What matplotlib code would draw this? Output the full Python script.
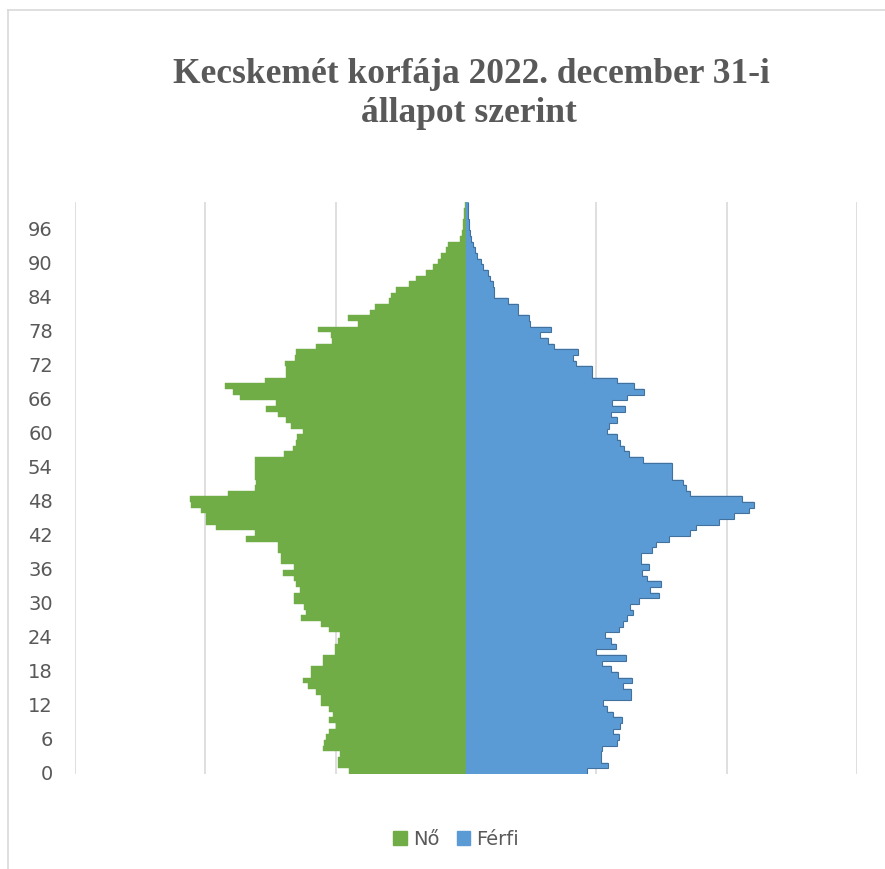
import numpy as np
import matplotlib
matplotlib.use("Agg")
import matplotlib.pyplot as plt
from matplotlib.patches import Patch

# Kecskemét population by age (0..100)
ages = list(range(0, 101))

no = [447, 492, 492, 485, 549, 543, 536, 524, 498, 524,
      511, 524, 555, 555, 575, 607, 626, 594, 594, 549,
      549, 504, 504, 492, 485, 524, 555, 632, 613, 620,
      658, 658, 638, 651, 658, 702, 658, 709, 709, 721,
      721, 843, 808, 958, 996, 996, 1015, 1054, 1060, 913,
      808, 805, 808, 811, 811, 811, 699, 664, 651, 647,
      626, 670, 690, 721, 766, 728, 868, 894, 926, 773,
      690, 690, 696, 655, 651, 575, 513, 517, 568, 415,
      453, 370, 350, 294, 287, 268, 217, 192, 153, 128,
      109, 96, 77, 70, 22, 17, 13, 10, 9, 6,
      4]

ferfi = [466, 545, 517, 517, 520, 578, 587, 565, 590, 600,
         565, 540, 527, 634, 634, 601, 637, 585, 558, 520,
         613, 500, 575, 555, 533, 587, 604, 617, 639, 630,
         664, 741, 706, 747, 696, 677, 702, 670, 670, 715,
         728, 779, 859, 881, 970, 1028, 1085, 1105, 1060, 859,
         845, 834, 792, 792, 792, 680, 626, 607, 590, 581,
         540, 549, 578, 556, 610, 562, 619, 681, 645, 581,
         485, 485, 421, 409, 428, 338, 315, 285, 326, 246,
         243, 198, 198, 160, 109, 109, 102, 93, 83, 64,
         57, 42, 34, 26, 19, 15, 13, 10, 9, 8,
         6]

title_1 = "Kecskemét korfája 2022. december 31-i"
title_2 = "állapot szerint"
ytick_ages = list(range(0, 97, 6))

green = "#70AD47"
blue = "#5B9BD5"
blue_edge = "#41719C"
grey_text = "#595959"

W, H = 885, 870
fig = plt.figure(figsize=(W / 100, H / 100), dpi=100)
ax = fig.add_axes([75 / W, 1 - 775 / H, 782 / W, 572 / H])

ax.barh(ages, [-v for v in no], height=1.0, color=green,
        edgecolor=green, linewidth=0.3, zorder=2)
ax.barh(ages, ferfi, height=1.0, color=blue,
        edgecolor=blue, linewidth=0.3, zorder=2)
# darker outline around the male side
edges = np.arange(len(ages) + 1) - 0.5
ax.stairs(ferfi, edges, orientation="horizontal", baseline=None,
          color=blue_edge, linewidth=0.8, zorder=3)

ax.set_xlim(-1500, 1500)
ax.set_ylim(-0.5, len(ages) - 0.5)
ax.set_xticks(range(-1500, 1501, 500))
ax.set_xticklabels([])
ax.set_yticks(ytick_ages)
ax.set_yticklabels([str(a) for a in ytick_ages], fontsize=14,
                   color=grey_text)
ax.tick_params(axis="both", length=0)
ax.tick_params(axis="y", pad=16)
ax.grid(axis="x", color="#D9D9D9", linewidth=1.2, zorder=0)
ax.set_axisbelow(True)
for s in ax.spines.values():
    s.set_visible(False)

fig.text(471 / W, 1 - 83 / H, title_1, ha="center", va="baseline",
         fontsize=25.5, fontweight="bold", family="Liberation Serif",
         color=grey_text)
fig.text(469 / W, 1 - 122 / H, title_2, ha="center", va="baseline",
         fontsize=25.5, fontweight="bold", family="Liberation Serif",
         color=grey_text)

handles = [Patch(color=green, label="Nő"), Patch(color=blue, label="Férfi")]
fig.legend(handles=handles, loc="center", bbox_to_anchor=(456 / W, 1 - 840 / H),
           ncol=2, frameon=False, fontsize=14, labelcolor=grey_text,
           handlelength=0.7, handleheight=0.7, handletextpad=0.3,
           columnspacing=0.9)

# chart area border (top and left visible in the original crop)
fig.add_artist(plt.Line2D([8 / W, 1], [1 - 11 / H, 1 - 11 / H],
                          color="#D9D9D9", linewidth=1.2))
fig.add_artist(plt.Line2D([8 / W, 8 / W], [0, 1 - 11 / H],
                          color="#D9D9D9", linewidth=1.2))

fig.savefig("out.png", dpi=100, facecolor="white")
